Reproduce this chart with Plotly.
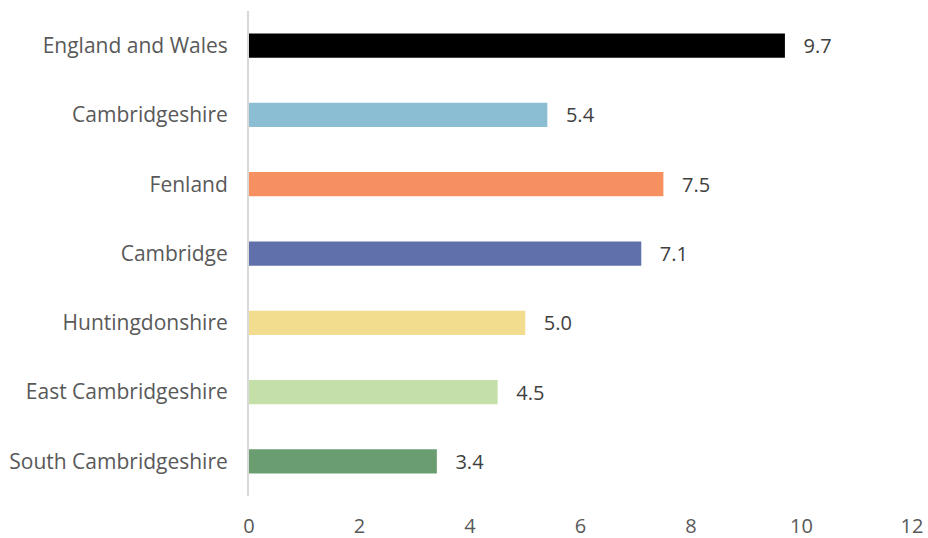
import plotly.graph_objects as go

categories = ["England and Wales", "Cambridgeshire", "Fenland", "Cambridge",
              "Huntingdonshire", "East Cambridgeshire", "South Cambridgeshire"]
values = [9.7, 5.4, 7.5, 7.1, 5.0, 4.5, 3.4]
colors = ["#000000", "#8BBDD3", "#F79060", "#5F70AA", "#F2DC8D", "#C4DFA8", "#6A9E70"]
x_ticks = [0, 2, 4, 6, 8, 10, 12]

FONT = "Open Sans, Liberation Sans, sans-serif"

fig = go.Figure(go.Bar(
    x=values, y=categories, orientation="h",
    marker=dict(color=colors, line=dict(width=0)),
    width=0.35,
    text=[f"{v:.1f}" for v in values],
    texttemplate="   %{text}",
    textposition="outside",
    constraintext="none",
    textfont=dict(family=FONT, size=20, color="#404040"),
    cliponaxis=False,
))

fig.update_layout(
    width=928, height=538,
    margin=dict(l=249, r=16, t=11, b=42),
    paper_bgcolor="white", plot_bgcolor="white",
    showlegend=False,
    font=dict(family=FONT, size=21, color="#595959"),
    xaxis=dict(range=[0, 12], tickvals=x_ticks, showgrid=False, zeroline=False,
               showline=False, ticks="outside", ticklen=12, tickcolor="rgba(0,0,0,0)",
               tickfont=dict(size=20, color="#595959"), automargin=False),
    yaxis=dict(categoryorder="array", categoryarray=categories, autorange="reversed",
               showgrid=False, zeroline=False, showline=True, linecolor="#D9D9D9",
               linewidth=2, ticks="outside", ticklen=15, tickcolor="rgba(0,0,0,0)",
               tickfont=dict(size=21, color="#595959"), automargin=False),
)

fig.write_html("out.html", config={"displayModeBar": False},
               post_script="document.body.style.margin='0';")
